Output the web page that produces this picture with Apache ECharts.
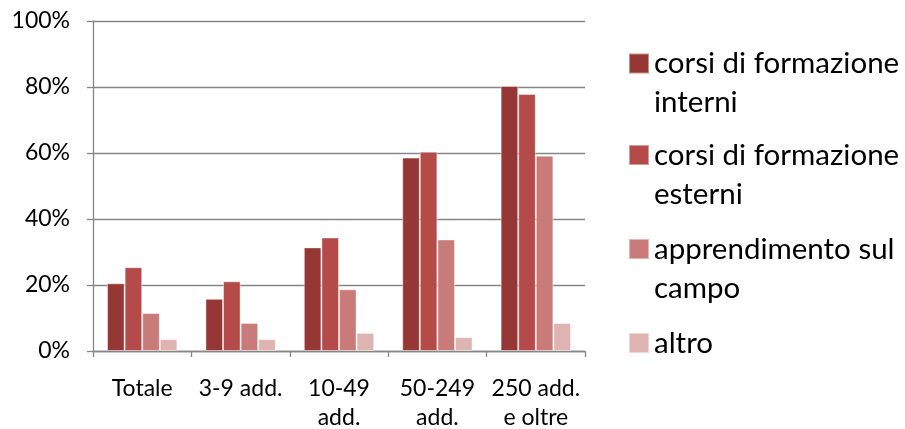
<!DOCTYPE html>
<html>
<head>
<meta charset="utf-8">
<script src="https://cdn.jsdelivr.net/npm/echarts@6/dist/echarts.min.js"></script>
<style>
  html, body { margin: 0; padding: 0; background: #fff; }
  #chart { width: 905px; height: 429px; }
</style>
</head>
<body>
<div id="chart"></div>
<script>
// Categories (firm size classes) and share of firms per training type, in %
const categories = ['Totale', '3-9 add.', '10-49\nadd.', '50-249\nadd.', '250 add.\ne oltre'];
const seriesNames = ['corsi di formazione\ninterni', 'corsi di formazione\nesterni', 'apprendimento sul\ncampo', 'altro'];
const corsiInterni = [20.5, 15.8, 31.4, 58.6, 80.3];
const corsiEsterni = [25.4, 21.1, 34.4, 60.4, 77.9];
const apprendimento = [11.5, 8.5, 18.7, 33.8, 59.2];
const altro = [3.6, 3.6, 5.5, 4.2, 8.5];
const yTicks = [0, 20, 40, 60, 80, 100];

const colors = ['#953735', '#B44B49', '#C97B7A', '#DEB4B3'];
const values = [corsiInterni, corsiEsterni, apprendimento, altro];
const FONT = 'Lato';
const axisGrey = '#868686';

// Legend: one component per entry so the swatch sits beside the first text line.
// A blank leading line keeps the first real line centred on the swatch.
const legendIconCenters = [63.5, 155, 249, 343];
const legendFont = 29.5, legendLine = 39;
const legends = seriesNames.map((name, i) => {
  const twoLine = name.indexOf('\n') >= 0;
  const top = twoLine ? legendIconCenters[i] - legendLine * 1.5 : legendIconCenters[i] - legendLine / 2;
  return {
    data: [name],
    left: 628,
    top: top,
    padding: 0,
    itemWidth: 20,
    itemHeight: 20,
    icon: 'rect',
    selectedMode: false,
    formatter: n => (twoLine ? ' \n' + n : n),
    textStyle: {
      fontFamily: FONT,
      fontSize: legendFont,
      lineHeight: legendLine,
      color: '#000'
    }
  };
});

const chart = echarts.init(document.getElementById('chart'), null, { renderer: 'canvas' });
chart.setOption({
  animation: false,
  color: colors,
  textStyle: { fontFamily: FONT },
  grid: { left: 93, right: 320, top: 21, bottom: 78, containLabel: false, outerBoundsMode: 'none' },
  legend: legends,
  xAxis: {
    type: 'category',
    data: categories,
    axisLine: { lineStyle: { color: axisGrey, width: 1.3 } },
    axisTick: { show: true, length: 6, lineStyle: { color: axisGrey, width: 1.3 } },
    axisLabel: {
      interval: 0,
      margin: 23,
      fontFamily: FONT,
      fontSize: 23,
      lineHeight: 29,
      color: '#000',
      verticalAlign: 'top'
    }
  },
  yAxis: {
    type: 'value',
    min: yTicks[0],
    max: yTicks[yTicks.length - 1],
    interval: yTicks[1] - yTicks[0],
    axisLine: { show: true, lineStyle: { color: axisGrey, width: 1.3 } },
    axisTick: { show: true, length: 6, lineStyle: { color: axisGrey, width: 1.3 } },
    splitLine: { lineStyle: { color: axisGrey, width: 1.3 } },
    axisLabel: {
      margin: 23,
      fontFamily: FONT,
      fontSize: 23,
      color: '#000',
      formatter: '{value}%'
    }
  },
  series: seriesNames.map((name, i) => ({
    name: name,
    type: 'bar',
    data: values[i],
    barGap: '0%',
    barCategoryGap: '28.5%',
    itemStyle: { color: colors[i], borderColor: 'rgba(255,255,255,0.45)', borderWidth: 1 }
  }))
});
</script>
</body>
</html>
